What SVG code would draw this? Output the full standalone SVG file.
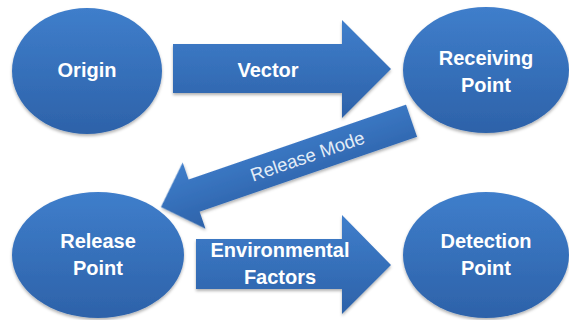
<svg xmlns="http://www.w3.org/2000/svg" width="569" height="320" viewBox="0 0 569 320">
<defs>
<linearGradient id="g" x1="0" y1="0" x2="0" y2="1">
<stop offset="0" stop-color="#3f7ecb"/>
<stop offset="1" stop-color="#2d62a9"/>
</linearGradient>
<filter id="sh" x="-10%" y="-10%" width="120%" height="130%">
<feDropShadow dx="0" dy="2" stdDeviation="1.5" flood-color="#000" flood-opacity="0.3"/>
</filter>
<style>
.s{fill:url(#g);filter:url(#sh)}
.t{font-family:"Liberation Sans",Arial,sans-serif;font-weight:bold;font-size:20px;fill:#fff;text-anchor:middle}
</style>
</defs>
<rect width="569" height="320" fill="#fff"/>
<g id="connectors">
<g id="vector">
<path class="s" d="M173,44 H342 V20 L391,69 L342,118 V93 H173 Z"/>
<text class="t" x="268" y="77">Vector</text>
</g>
<g id="release-mode" transform="translate(161,207) rotate(-19)">
<path class="s" d="M0,0 L35,-35 V-17 H265 V17 H35 V35 Z"/>
<text class="t" x="155" y="6" style="font-size:18.5px;font-weight:normal;fill:#e2ecf7">Release Mode</text>
</g>
<g id="environmental">
<path class="s" d="M196,239 H342 V215 L391,265 L342,314 V289 H196 Z"/>
<text class="t" x="280" y="257">Environmental</text>
<text class="t" x="280" y="284">Factors</text>
</g>
</g>
<g id="origin">
<ellipse class="s" cx="87" cy="71" rx="75" ry="63"/>
<text class="t" x="87" y="77">Origin</text>
</g>
<g id="receiving">
<ellipse class="s" cx="486" cy="70" rx="83" ry="63"/>
<text class="t" x="486" y="65">Receiving</text>
<text class="t" x="486" y="92">Point</text>
</g>
<g id="release">
<ellipse class="s" cx="98" cy="255" rx="86" ry="63"/>
<text class="t" x="98" y="248">Release</text>
<text class="t" x="98" y="275">Point</text>
</g>
<g id="detection">
<ellipse class="s" cx="486" cy="255" rx="83" ry="63"/>
<text class="t" x="486" y="248">Detection</text>
<text class="t" x="486" y="275">Point</text>
</g>
</svg>
